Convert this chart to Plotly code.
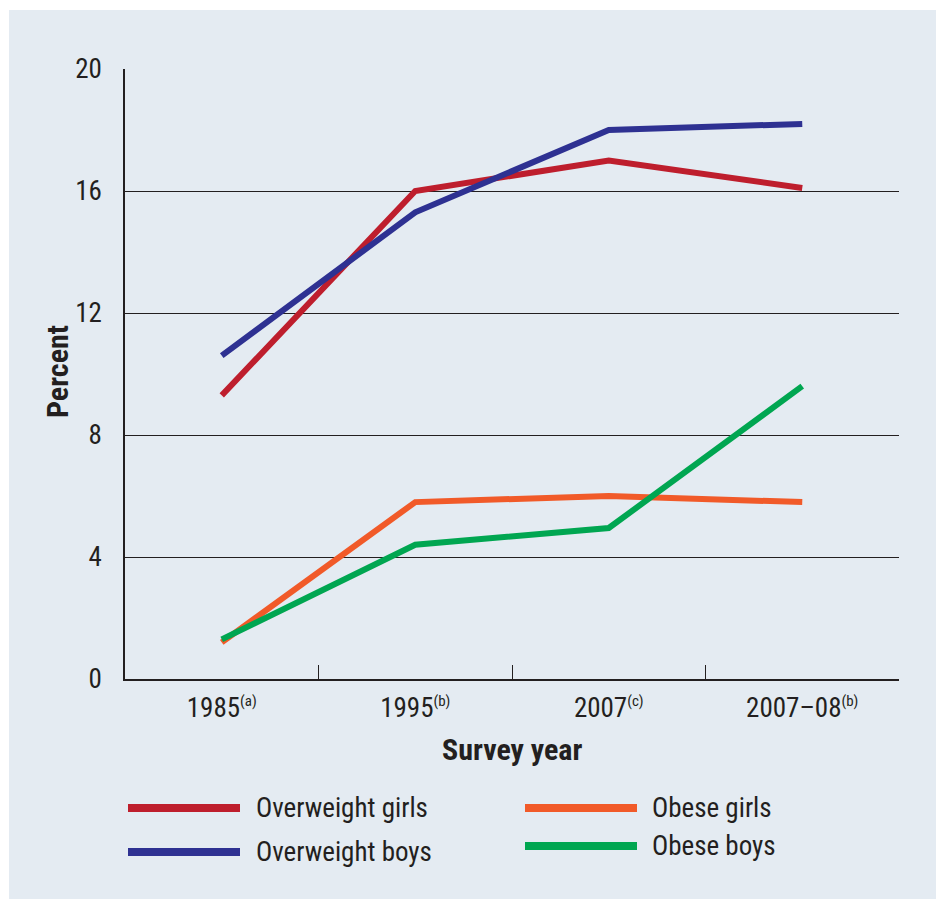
import plotly.graph_objects as go

categories = ["1985<sup><span style='font-size:15px'>(a)</span></sup>",
              "1995<sup><span style='font-size:15px'>(b)</span></sup>",
              "2007<sup><span style='font-size:15px'>(c)</span></sup>",
              "2007–08<sup><span style='font-size:15px'>(b)</span></sup>"]
overweight_girls = [9.3, 16.0, 17.0, 16.1]
overweight_boys = [10.6, 15.3, 18.0, 18.2]
obese_girls = [1.2, 5.8, 6.0, 5.8]
obese_boys = [1.3, 4.4, 4.95, 9.6]
series_names = ["Overweight girls", "Overweight boys", "Obese girls", "Obese boys"]
series_colors = ["#be1e2d", "#2e3192", "#f15a29", "#00a651"]
y_ticks = [0, 4, 8, 12, 16, 20]

W, H = 936, 899
L, R, T, B = 125, 899, 69, 679
FONT = "Liberation Sans Narrow, Roboto Condensed, Arial Narrow, Liberation Sans, sans-serif"
TXT = "#231f20"
PANEL = "#e4ebf2"


def px(x):
    return (x - L) / (R - L)


def py(y):
    return (B - y) / (B - T)


fig = go.Figure()
for name, vals, col in zip(series_names,
                           [overweight_girls, overweight_boys, obese_girls, obese_boys],
                           series_colors):
    fig.add_trace(go.Scatter(x=categories, y=vals, name=name, mode="lines",
                             line=dict(color=col, width=6), showlegend=False))

shapes = [dict(type="rect", xref="paper", yref="paper", x0=px(9), x1=px(W + 5),
               y0=py(H + 5), y1=py(10), fillcolor=PANEL, line=dict(width=0), layer="below")]
annotations = []

# custom legend
legend_pos = [(128, 240, 808, 254), (128, 240, 852, 254), (525, 637, 808, 650), (525, 637, 846, 650)]
for (x0, x1, yy, tx), name, col in zip(legend_pos, series_names, series_colors):
    shapes.append(dict(type="line", xref="paper", yref="paper", x0=px(x0), x1=px(x1),
                       y0=py(yy), y1=py(yy), line=dict(color=col, width=8)))
    annotations.append(dict(text=name, xref="paper", yref="paper", x=px(tx), y=py(yy),
                            xanchor="left", yanchor="middle", showarrow=False,
                            font=dict(family=FONT, size=27, color=TXT)))

annotations.append(dict(text="<b>Survey year</b>", xref="paper", yref="paper", x=px(512), y=py(750),
                        xanchor="center", yanchor="middle", showarrow=False,
                        font=dict(family=FONT, size=30, color=TXT)))
annotations.append(dict(text="<b>Percent</b>", xref="paper", yref="paper", x=px(57), y=py(372),
                        xanchor="center", yanchor="middle", showarrow=False, textangle=-90,
                        font=dict(family=FONT, size=30, color=TXT)))

fig.update_layout(
    width=W, height=H,
    margin=dict(l=L, r=W - R, t=T, b=H - B),
    paper_bgcolor="white", plot_bgcolor=PANEL,
    shapes=shapes, annotations=annotations,
    font=dict(family=FONT, size=27, color=TXT),
    xaxis=dict(type="category", range=[-0.5, 3.5], tickson="boundaries", ticks="inside",
               ticklen=14, tickwidth=1.3, tickcolor="#231f20", showline=True, linecolor="#231f20",
               linewidth=1.5, showgrid=False, ticklabelstandoff=4,
               tickfont=dict(family=FONT, size=27, color=TXT)),
    yaxis=dict(range=[0, 20], tickvals=y_ticks, showgrid=True, gridcolor="#231f20", gridwidth=1.2,
               zeroline=False, showline=True, linecolor="#231f20", linewidth=1.5, ticks="",
               ticklabelstandoff=16, tickfont=dict(family=FONT, size=27, color=TXT)),
)
fig.write_html("out.html", config={"displayModeBar": False},
               post_script="document.body.style.margin='0';document.body.style.overflow='hidden';")
